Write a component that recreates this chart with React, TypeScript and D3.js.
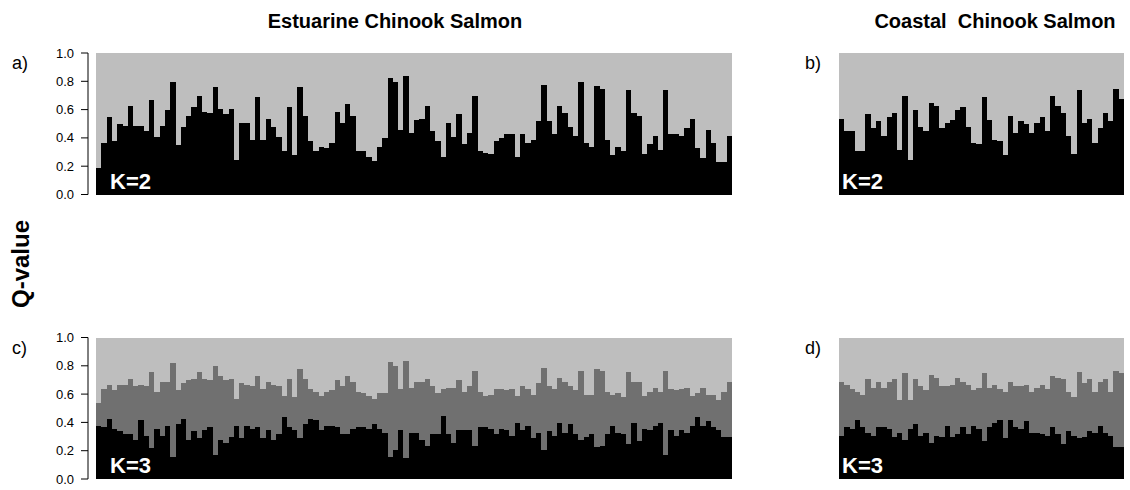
import React from "react";
import * as d3 from "d3";

// ---------- data ----------
const estuarineK2: number[] = [
  0.19, 0.37, 0.55, 0.38, 0.5, 0.49, 0.63, 0.49, 0.49, 0.45,
  0.67, 0.41, 0.49, 0.6, 0.8, 0.35, 0.48, 0.56, 0.62, 0.7,
  0.59, 0.58, 0.76, 0.61, 0.57, 0.61, 0.25, 0.51, 0.51, 0.39,
  0.69, 0.39, 0.54, 0.48, 0.41, 0.31, 0.62, 0.28, 0.76, 0.56,
  0.38, 0.31, 0.34, 0.33, 0.37, 0.59, 0.51, 0.64, 0.56, 0.31,
  0.31, 0.27, 0.24, 0.34, 0.4, 0.83, 0.8, 0.46, 0.84, 0.44,
  0.53, 0.54, 0.63, 0.45, 0.38, 0.27, 0.51, 0.41, 0.57, 0.36,
  0.44, 0.7, 0.31, 0.3, 0.29, 0.38, 0.4, 0.43, 0.43, 0.27,
  0.43, 0.37, 0.39, 0.52, 0.78, 0.52, 0.43, 0.63, 0.58, 0.48,
  0.42, 0.8, 0.37, 0.34, 0.77, 0.75, 0.39, 0.28, 0.34, 0.31,
  0.74, 0.58, 0.56, 0.29, 0.36, 0.42, 0.32, 0.74, 0.43, 0.43,
  0.42, 0.47, 0.54, 0.33, 0.26, 0.46, 0.37, 0.23, 0.23, 0.42,
];

const coastalK2: number[] = [
  0.54, 0.45, 0.45, 0.31, 0.31, 0.57, 0.47, 0.52, 0.42, 0.55,
  0.58, 0.32, 0.7, 0.25, 0.6, 0.48, 0.45, 0.65, 0.63, 0.47,
  0.51, 0.53, 0.6, 0.62, 0.48, 0.37, 0.36, 0.69, 0.53, 0.39,
  0.38, 0.28, 0.56, 0.44, 0.52, 0.5, 0.44, 0.51, 0.55, 0.45,
  0.7, 0.63, 0.58, 0.42, 0.29, 0.74, 0.51, 0.54, 0.37, 0.47,
  0.58, 0.52, 0.75, 0.68,
];

// K=3: cluster 1 (black) and cumulative cluster 1+2 (top of dark grey)
const estuarineK3Black: number[] = [
  0.38, 0.37, 0.43, 0.36, 0.34, 0.32, 0.32, 0.28, 0.42, 0.31,
  0.22, 0.36, 0.31, 0.38, 0.16, 0.39, 0.43, 0.28, 0.34, 0.29,
  0.35, 0.37, 0.17, 0.28, 0.26, 0.3, 0.38, 0.29, 0.38, 0.36,
  0.37, 0.29, 0.35, 0.28, 0.32, 0.44, 0.37, 0.35,
  0.29, 0.39, 0.43, 0.42, 0.35, 0.38, 0.38, 0.37, 0.32, 0.32,
  0.36, 0.37, 0.37, 0.36, 0.39, 0.36, 0.33, 0.16, 0.21, 0.35,
  0.15, 0.33, 0.33, 0.28, 0.24, 0.32, 0.32, 0.45, 0.32, 0.26,
  0.35, 0.35, 0.35, 0.24, 0.37, 0.37, 0.36, 0.32, 0.36,
  0.35, 0.31, 0.4, 0.35, 0.38, 0.29, 0.33, 0.21, 0.34, 0.31,
  0.4, 0.33, 0.39, 0.32, 0.28, 0.3, 0.32, 0.23, 0.24, 0.32,
  0.38, 0.33, 0.32, 0.25, 0.4, 0.27, 0.36, 0.35, 0.38, 0.4,
  0.17, 0.35, 0.31,
  0.35, 0.33, 0.38, 0.44, 0.38, 0.41, 0.37, 0.35, 0.3, 0.3,
];
const estuarineK3Mid: number[] = [
  0.54, 0.64, 0.67, 0.63, 0.67, 0.67, 0.71, 0.66, 0.67, 0.66,
  0.76, 0.62, 0.69, 0.69, 0.82, 0.63, 0.68, 0.7, 0.71, 0.76,
  0.71, 0.7, 0.8, 0.73, 0.7, 0.71, 0.57, 0.68, 0.67, 0.66,
  0.73, 0.64, 0.69, 0.67, 0.66, 0.59, 0.71, 0.58,
  0.78, 0.71, 0.64, 0.62, 0.59, 0.62, 0.63, 0.7, 0.66, 0.73,
  0.69, 0.62, 0.61, 0.59, 0.57, 0.61, 0.61, 0.83, 0.8, 0.64,
  0.84, 0.65, 0.69, 0.69, 0.71, 0.66, 0.61, 0.64, 0.65, 0.65,
  0.7, 0.62, 0.66, 0.77, 0.62, 0.59, 0.6, 0.64, 0.64,
  0.63, 0.64, 0.59, 0.66, 0.64, 0.6, 0.68, 0.79, 0.66, 0.64,
  0.72, 0.69, 0.66, 0.63, 0.77, 0.6, 0.6, 0.78, 0.77, 0.62,
  0.6, 0.61, 0.58, 0.76, 0.69, 0.69, 0.59, 0.62, 0.65, 0.62,
  0.77, 0.64, 0.63,
  0.64, 0.65, 0.59, 0.61, 0.65, 0.6, 0.6, 0.56, 0.62, 0.69,
];

const coastalK3Black: number[] = [
  0.31, 0.37, 0.36, 0.42, 0.37, 0.33, 0.31, 0.37, 0.37, 0.36,
  0.3, 0.33, 0.28, 0.36, 0.39, 0.31, 0.33, 0.26, 0.31, 0.3,
  0.38, 0.3, 0.32, 0.37, 0.32, 0.38, 0.36, 0.27, 0.37, 0.4,
  0.42, 0.29, 0.42, 0.37, 0.36, 0.41, 0.33, 0.33, 0.32, 0.31,
  0.37, 0.32, 0.25, 0.34, 0.31, 0.29, 0.3, 0.34, 0.33, 0.38,
  0.33, 0.31, 0.23, 0.23,
];
const coastalK3Mid: number[] = [
  0.69, 0.67, 0.64, 0.62, 0.6, 0.71, 0.65, 0.69, 0.65, 0.69,
  0.71, 0.56, 0.75, 0.56, 0.71, 0.66, 0.63, 0.74, 0.72, 0.66,
  0.66, 0.67, 0.72, 0.69, 0.67, 0.63, 0.65, 0.75, 0.65, 0.67,
  0.64, 0.62, 0.69, 0.66, 0.66, 0.67, 0.62, 0.65, 0.67, 0.64,
  0.73, 0.72, 0.71, 0.62, 0.58, 0.76, 0.68, 0.71, 0.62, 0.69,
  0.71, 0.62, 0.77, 0.75,
];

const yTickValues: number[] = [0, 0.2, 0.4, 0.6, 0.8, 1.0];
const columnTitles: string[] = ["Estuarine Chinook Salmon", "Coastal  Chinook Salmon"];
const panelLetters: string[] = ["a)", "b)", "c)", "d)"];
const kLabels: string[] = ["K=2", "K=3"];
const yAxisTitle = "Q-value";

// ---------- layout ----------
const W = 1130;
const H = 490;
const FONT = "'Liberation Sans', Arial, Helvetica, sans-serif";
const LIGHT = "#bebebe";
const MID = "#707070";
const DARK = "#000000";

const cols = [
  { x0: 96, x1: 732, kx: 110, letterX: 12, titleX: 395 },
  { x0: 839, x1: 1124, kx: 842, letterX: 805, titleX: 995 },
];
const rows = [
  { top: 53, bottom: 194.5 },
  { top: 337.5, bottom: 479 },
];

type Layer = { lo: number; hi: number; color: string };

function Panel({
  layers,
  col,
  row,
  letter,
  kLabel,
  showAxis,
}: {
  layers: Layer[][];
  col: (typeof cols)[number];
  row: (typeof rows)[number];
  letter: string;
  kLabel: string;
  showAxis: boolean;
}) {
  const x = d3
    .scaleBand<number>()
    .domain(d3.range(layers.length))
    .range([col.x0, col.x1])
    .paddingInner(0)
    .paddingOuter(0);
  const y = d3.scaleLinear().domain([0, 1]).range([row.bottom, row.top]);
  const bw = x.bandwidth();
  return (
    <g>
      {layers.map((segs, i) =>
        segs.map((s, j) => (
          <rect
            key={`${i}-${j}`}
            x={x(i)!}
            width={bw + (i < layers.length - 1 ? 0.6 : 0)}
            y={y(s.hi)}
            height={y(s.lo) - y(s.hi) + (j > 0 ? 0.5 : 0)}
            fill={s.color}
            shapeRendering="crispEdges"
          />
        ))
      )}
      {showAxis && (
        <g>
          <line x1={88} x2={88} y1={y(0)} y2={y(1)} stroke="#000" strokeWidth={1} />
          {yTickValues.map((t) => (
            <g key={t}>
              <line x1={81} x2={88} y1={y(t)} y2={y(t)} stroke="#000" strokeWidth={1} />
              <text
                x={74}
                y={y(t)}
                dy="0.35em"
                textAnchor="end"
                fontSize={13}
                fontFamily={FONT}
                fill="#000"
              >
                {d3.format(".1f")(t)}
              </text>
            </g>
          ))}
        </g>
      )}
      <text x={col.letterX} y={row.top + 16} fontSize={18} fontFamily={FONT} fill="#000">
        {letter}
      </text>
      <text
        x={col.kx}
        y={row.bottom - 6}
        fontSize={22}
        fontWeight="bold"
        fontFamily={FONT}
        fill="#fff"
      >
        {kLabel}
      </text>
    </g>
  );
}

function k2Layers(q: number[]): Layer[][] {
  return q.map((v) => [
    { lo: 0, hi: v, color: DARK },
    { lo: v, hi: 1, color: LIGHT },
  ]);
}
function k3Layers(b: number[], m: number[]): Layer[][] {
  return b.map((v, i) => [
    { lo: 0, hi: v, color: DARK },
    { lo: v, hi: m[i], color: MID },
    { lo: m[i], hi: 1, color: LIGHT },
  ]);
}

export default function App() {
  const panels = [
    { layers: k2Layers(estuarineK2), col: cols[0], row: rows[0], letter: panelLetters[0], k: kLabels[0], axis: true },
    { layers: k2Layers(coastalK2), col: cols[1], row: rows[0], letter: panelLetters[1], k: kLabels[0], axis: false },
    { layers: k3Layers(estuarineK3Black, estuarineK3Mid), col: cols[0], row: rows[1], letter: panelLetters[2], k: kLabels[1], axis: true },
    { layers: k3Layers(coastalK3Black, coastalK3Mid), col: cols[1], row: rows[1], letter: panelLetters[3], k: kLabels[1], axis: false },
  ];
  return (
    <svg
      width={W}
      height={H}
      viewBox={`0 0 ${W} ${H}`}
      style={{ position: "absolute", left: 0, top: 0, background: "#fff" }}
    >
      <rect x={0} y={0} width={W} height={H} fill="#fff" />
      {columnTitles.map((t, i) => (
        <text
          key={t}
          x={cols[i].titleX}
          y={28}
          textAnchor="middle"
          fontSize={20}
          fontWeight="bold"
          fontFamily={FONT}
          fill="#000"
          style={{ whiteSpace: "pre" }}
        >
          {t}
        </text>
      ))}
      <text
        transform={`translate(29, 264) rotate(-90)`}
        textAnchor="middle"
        fontSize={24}
        fontWeight="bold"
        fontFamily={FONT}
        fill="#000"
      >
        {yAxisTitle}
      </text>
      {panels.map((p, i) => (
        <Panel
          key={i}
          layers={p.layers}
          col={p.col}
          row={p.row}
          letter={p.letter}
          kLabel={p.k}
          showAxis={p.axis}
        />
      ))}
    </svg>
  );
}
